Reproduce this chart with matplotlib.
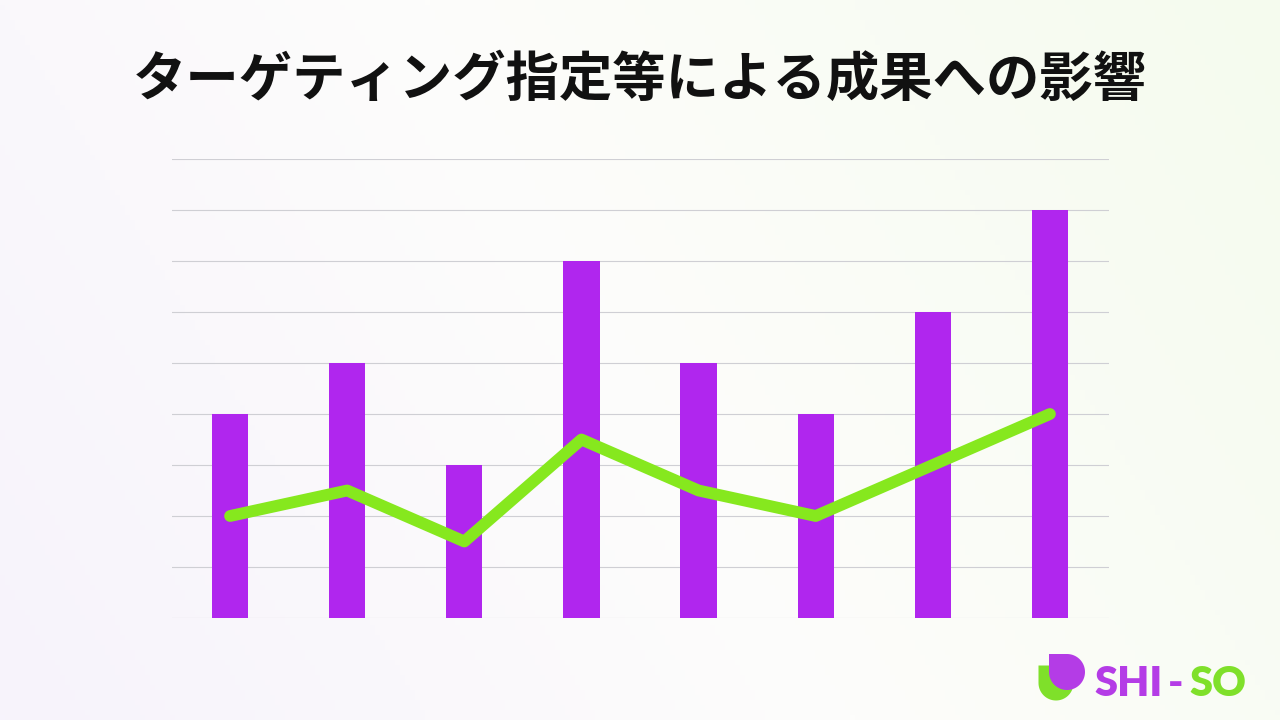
import numpy as np
import matplotlib

matplotlib.use("Agg")
import matplotlib.pyplot as plt
from matplotlib.path import Path
from matplotlib.patches import PathPatch

plt.rcParams["font.family"] = ["Noto Sans CJK JP", "DejaVu Sans"]

TITLE = "ターゲティング指定等による成果への影響"
categories = ["A", "B", "C", "D", "E", "F", "G", "H"]
bar_values = [4, 5, 3, 7, 5, 4, 6, 8]
line_values = [2, 2.5, 1.5, 3.5, 2.5, 2, 3, 4]

BAR_COLOR = "#B026EE"
LINE_COLOR = "#86E81E"
LOGO_PURPLE = "#B43CE6"
LOGO_GREEN = "#7FE02A"

fig = plt.figure(figsize=(12.8, 7.2), dpi=100)

# background gradient: lavender at top-left, pale green at bottom-right
bg = fig.add_axes([0, 0, 1, 1], zorder=-10)
xx, yy = np.meshgrid(np.linspace(0, 1, 256), np.linspace(0, 1, 144))
t = np.clip((xx * 0.75 + (1 - yy) * 0.25), 0, 1)
c0 = np.array([0xF7, 0xF3, 0xFC]) / 255
c1 = np.array([0xFD, 0xFD, 0xFB]) / 255
c2 = np.array([0xF5, 0xFB, 0xEE]) / 255
tt = t[..., None]
img = np.where(tt < 0.5, c0 + (c1 - c0) * (tt / 0.5), c1 + (c2 - c1) * ((tt - 0.5) / 0.5))
bg.imshow(img, aspect="auto", extent=[0, 1, 0, 1], origin="upper")
bg.set_axis_off()

ax = fig.add_axes([171.5 / 1280, 1 - 618 / 720, 937 / 1280, 459 / 720])
ax.patch.set_alpha(0)
x = np.arange(len(categories))
ax.bar(x, bar_values, width=0.31, color=BAR_COLOR, zorder=2)
ax.plot(x, line_values, color=LINE_COLOR, lw=8.5, solid_capstyle="round",
        solid_joinstyle="round", zorder=3)
ax.set_xlim(-0.5, len(categories) - 0.5)
ax.set_ylim(0, 9)
ax.set_yticks(np.arange(0, 10, 1))
ax.grid(axis="y", color="#CFCFD4", lw=0.8, zorder=0)
ax.tick_params(left=False, bottom=False, labelleft=False, labelbottom=False)
for s in ax.spines.values():
    s.set_visible(False)

fig.text(0.5, 1 - 80 / 720, TITLE, ha="center", va="center",
         fontsize=38.4, fontweight="bold", color="#111111")

# logo
logo = fig.add_axes([0, 0, 1, 1], zorder=5)
logo.set_xlim(0, 1280)
logo.set_ylim(720, 0)
logo.set_axis_off()
logo.patch.set_alpha(0)


def drop(cx, cy, r):
    # circle with a square top-left corner
    theta = np.linspace(np.pi, 2.5 * np.pi, 60)
    px = cx + r * np.cos(theta)
    py = cy - r * np.sin(theta)
    verts = [(cx - r, cy - r)] + list(zip(px, py)) + [(cx - r, cy - r)]
    codes = [Path.MOVETO] + [Path.LINETO] * (len(verts) - 2) + [Path.CLOSEPOLY]
    return Path(verts, codes)


logo.add_patch(PathPatch(drop(1056, 683, 17.5), color=LOGO_GREEN, lw=0))
logo.add_patch(PathPatch(drop(1067, 672, 18), color=LOGO_PURPLE, lw=0))

logo_font = dict(fontsize=30, fontweight="heavy", family=["Lato", "DejaVu Sans"],
                 va="baseline", ha="left")
inv = logo.transData.inverted()
x_pos = 1094
for part, color, gap in [("SHI", LOGO_PURPLE, 6), ("-", LOGO_PURPLE, 6), ("SO", LOGO_GREEN, 0)]:
    txt = logo.text(x_pos, 696, part, color=color, **logo_font)
    fig.canvas.draw()
    ext = txt.get_window_extent()
    x_pos = inv.transform((ext.x1, ext.y0))[0] + gap

fig.savefig("out.png", dpi=100)
